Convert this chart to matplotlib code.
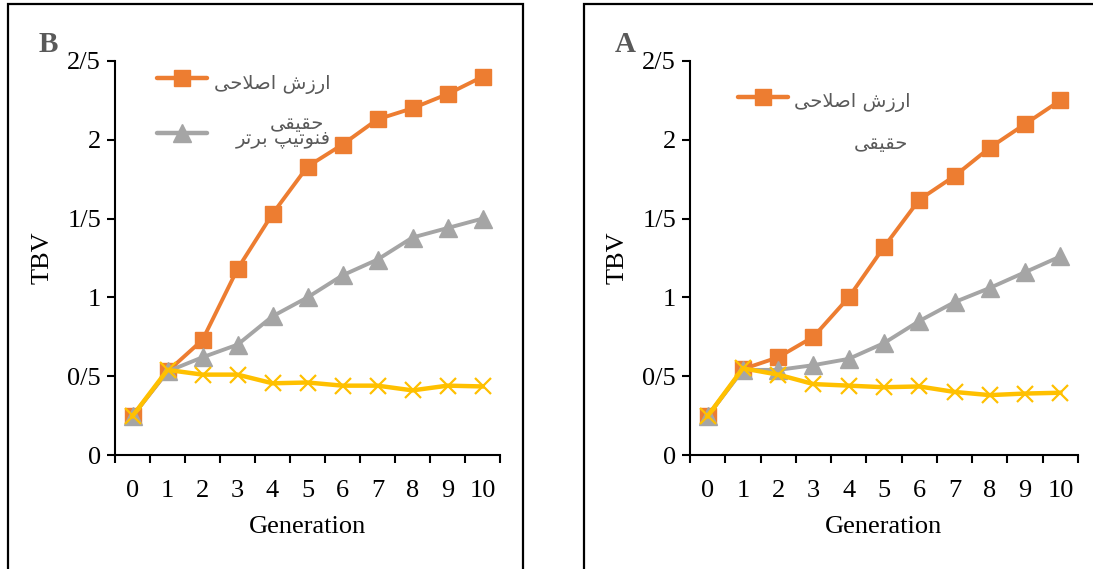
import matplotlib
matplotlib.use("Agg")
import matplotlib.pyplot as plt
from matplotlib.patches import Rectangle
from matplotlib.lines import Line2D

generations = [0, 1, 2, 3, 4, 5, 6, 7, 8, 9, 10]
x_labels = ["0", "1", "2", "3", "4", "5", "6", "7", "8", "9", "10"]
y_ticks = [0, 0.5, 1.0, 1.5, 2.0, 2.5]
y_labels = ["0", "0/5", "1", "1/5", "2", "2/5"]

# Panel B
b_orange = [0.247, 0.53, 0.73, 1.18, 1.53, 1.83, 1.97, 2.13, 2.20, 2.29, 2.40]
b_gray = [0.247, 0.53, 0.62, 0.70, 0.88, 1.00, 1.14, 1.24, 1.38, 1.44, 1.50]
b_yellow = [0.247, 0.54, 0.51, 0.51, 0.455, 0.46, 0.44, 0.44, 0.41, 0.44, 0.435]

# Panel A
a_orange = [0.247, 0.545, 0.62, 0.75, 1.00, 1.32, 1.62, 1.77, 1.95, 2.10, 2.25]
a_gray = [0.247, 0.54, 0.54, 0.57, 0.61, 0.71, 0.85, 0.97, 1.06, 1.16, 1.26]
a_yellow = [0.247, 0.55, 0.51, 0.45, 0.44, 0.43, 0.435, 0.40, 0.38, 0.39, 0.395]

# Persian labels (presentation forms, visual order)
lbl_breeding = "\uFEF0\uFEA3\uFEFC\uFEBB\uFE8D \uFEB5\uFEAF\uFEAD\uFE8D"   # ارزش اصلاحی
lbl_true = "\uFEF0\uFED8\uFEF4\uFED8\uFEA3"                                # حقیقی
lbl_pheno = "\uFEAE\uFE97\uFEAE\uFE91 \uFB57\uFEF4\uFE97\uFEEE\uFEE8\uFED3"  # فنوتیپ برتر

ORANGE = "#ED7D31"
GRAY = "#A5A5A5"
YELLOW = "#FFC000"
TXT = "#595959"
SERIF = "Liberation Serif"
FS = 19

W, H = 1093, 569
fig = plt.figure(figsize=(W / 100, H / 100), dpi=100)

def fx(px):
    return px / W

def fy(py):
    return 1 - py / H

# panel frames
for (x0, x1) in [(8, 523), (584, 1100)]:
    fig.add_artist(Rectangle((fx(x0), fy(600)), fx(x1 - x0), (600 - 4) / H,
                             transform=fig.transFigure, fill=False,
                             edgecolor="black", linewidth=1.6))

def panel(ax_px, data, letter, letter_px, legend_spec):
    x0, x1, ytop, ybot = ax_px
    ax = fig.add_axes([fx(x0), fy(ybot), fx(x1 - x0), (ybot - ytop) / H])
    o, g, yv = data
    ax.plot(generations, o, color=ORANGE, lw=2.8, marker="s", ms=12,
            mec=ORANGE, mfc=ORANGE, zorder=3, clip_on=False)
    ax.plot(generations, g, color=GRAY, lw=2.8, marker="^", ms=13,
            mec=GRAY, mfc=GRAY, zorder=4, clip_on=False)
    ax.plot(generations, yv, color=YELLOW, lw=3.2, marker="x", ms=12,
            mew=1.6, mec=YELLOW, zorder=5, clip_on=False)
    ax.set_xlim(-0.5, 10.5)
    ax.set_ylim(0, 2.5)
    ax.set_yticks(y_ticks)
    ax.set_yticklabels(y_labels, fontfamily=SERIF, fontsize=FS)
    ax.set_xticks([i - 0.5 for i in range(12)])
    ax.set_xticklabels([])
    ax.set_xticks(generations, minor=True)
    ax.set_xticklabels(x_labels, minor=True, fontfamily=SERIF, fontsize=FS)
    ax.tick_params(axis="x", which="major", direction="out", length=6, width=1.5)
    ax.tick_params(axis="x", which="minor", length=0, pad=18)
    ax.tick_params(axis="y", direction="out", length=6, width=1.5, pad=4)
    for s in ["top", "right"]:
        ax.spines[s].set_visible(False)
    for s in ["left", "bottom"]:
        ax.spines[s].set_linewidth(1.5)
    ax.set_xlabel("Generation", fontfamily=SERIF, fontsize=FS, labelpad=10)
    ax.set_ylabel("TBV", fontfamily=SERIF, fontsize=FS, labelpad=10)
    fig.text(fx(letter_px[0]), fy(letter_px[1]), letter, fontfamily=SERIF,
             fontweight="bold", fontsize=21, color=TXT, ha="center", va="center")
    # legend entries
    for (lx0, lx1, ly, color, marker, ms) in legend_spec["lines"]:
        fig.add_artist(Line2D([fx(lx0), fx(lx1)], [fy(ly), fy(ly)],
                              transform=fig.transFigure, color=color, lw=3.2,
                              solid_capstyle="round"))
        fig.add_artist(Line2D([fx((lx0 + lx1) / 2)], [fy(ly)],
                              transform=fig.transFigure, color=color,
                              marker=marker, ms=ms, linestyle="none"))
    for (tx, ty, txt) in legend_spec["texts"]:
        fig.text(fx(tx), fy(ty), txt, fontfamily="DejaVu Sans", fontsize=14,
                 color=TXT, ha="right", va="center")
    return ax

panel((115, 500, 61, 455), (b_orange, b_gray, b_yellow), "B", (48, 45),
      {"lines": [(157, 207, 78, ORANGE, "s", 12), (157, 207, 133, GRAY, "^", 13)],
       "texts": [(331, 84, lbl_breeding), (324, 123, lbl_true), (331, 139, lbl_pheno)]})

panel((690, 1078, 61, 455), (a_orange, a_gray, a_yellow), "A", (625, 45),
      {"lines": [(738, 788, 97, ORANGE, "s", 12)],
       "texts": [(911, 103, lbl_breeding), (908, 143, lbl_true)]})

fig.savefig("out.png", dpi=100)
